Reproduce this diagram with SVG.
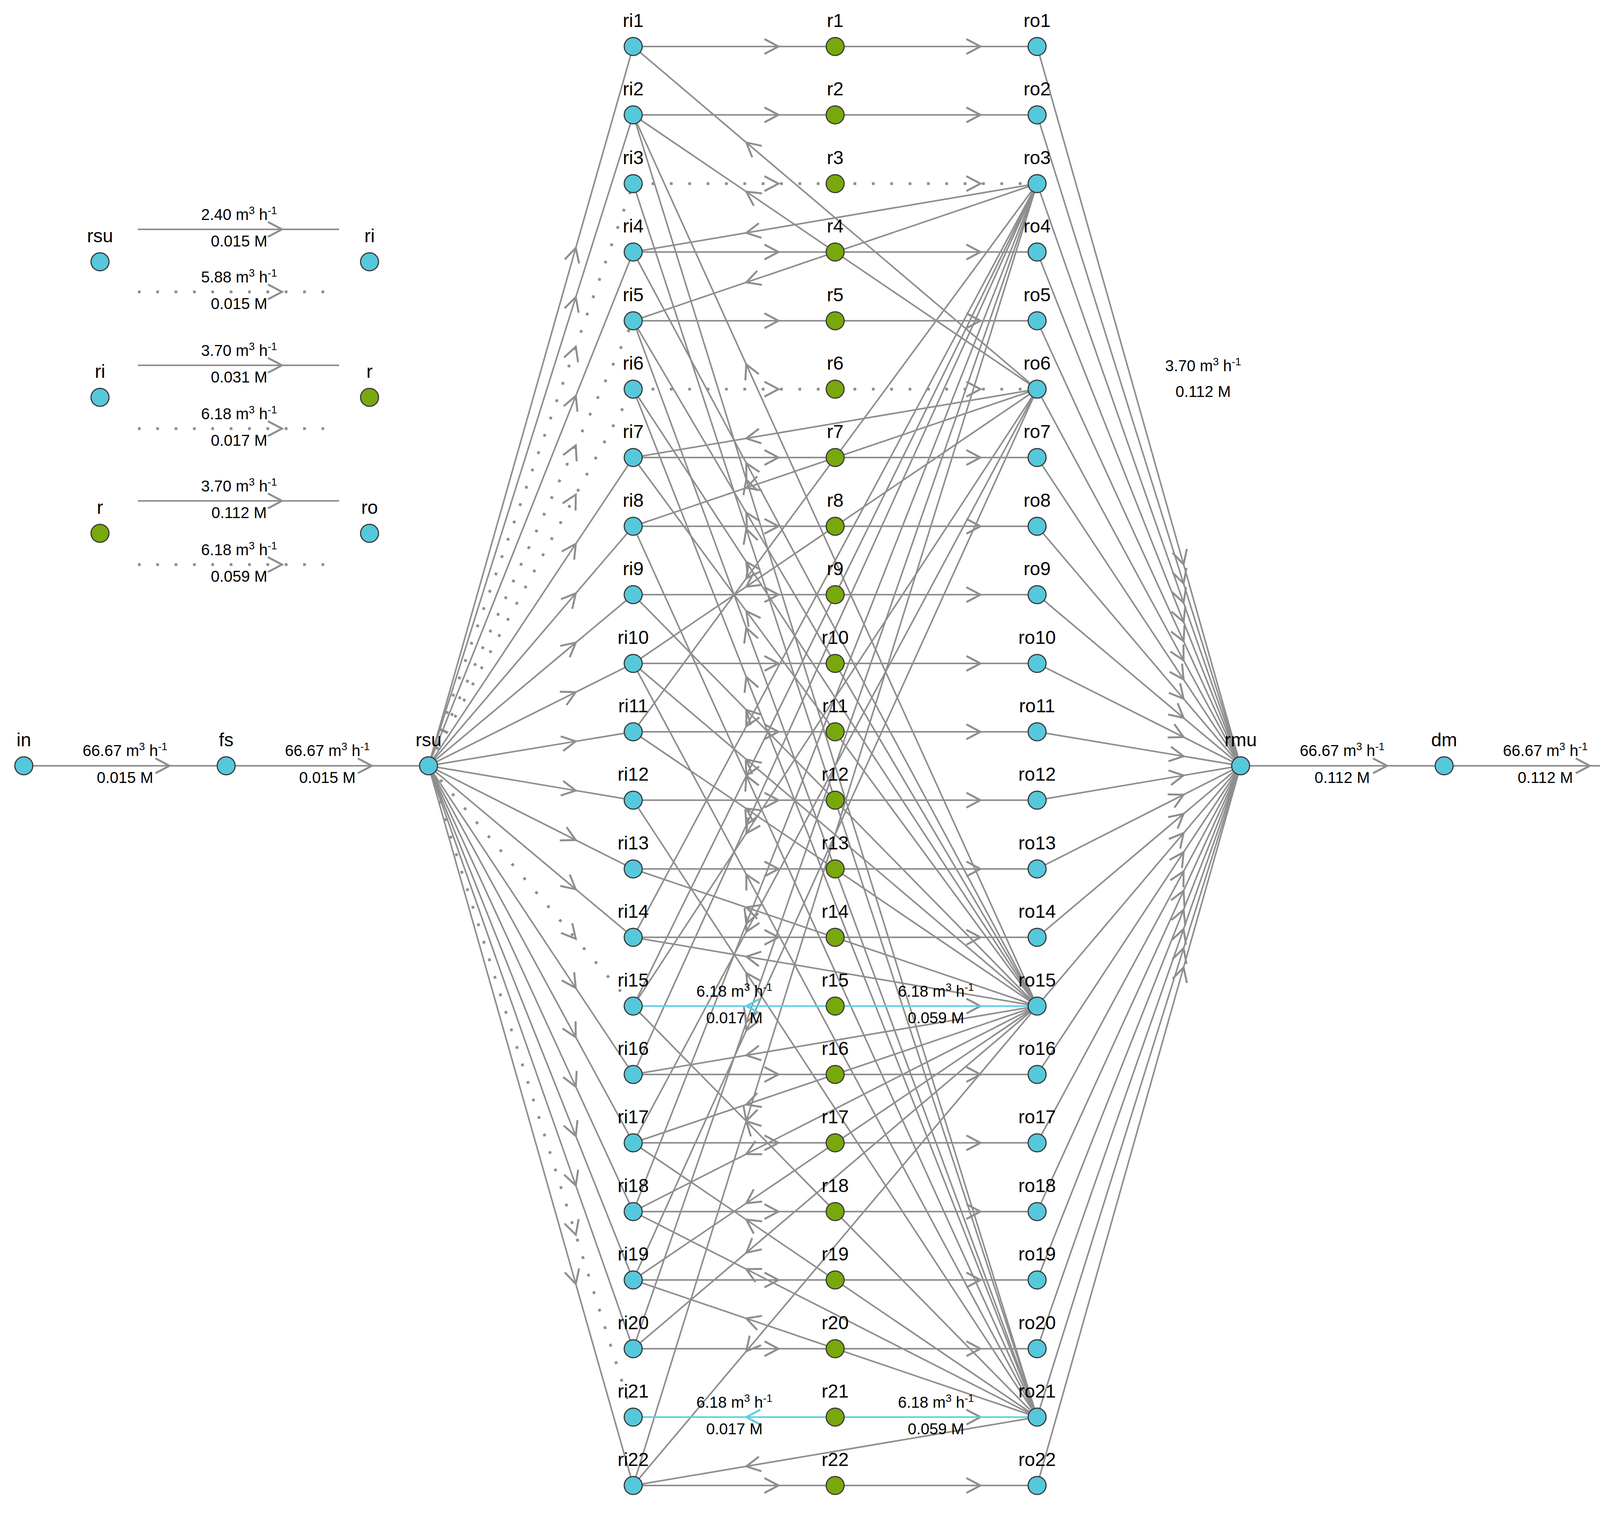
<svg xmlns="http://www.w3.org/2000/svg" width="4329" height="3875" viewBox="0 0 4329 3875">
<style>
text{font-family:"Liberation Sans",Arial,sans-serif;text-anchor:middle;fill:#000}
.n{font-size:48px}
.l{font-size:40px}
.l tspan[font-size]{font-size:27px}
.e{stroke:#8e8e8e;stroke-width:4;fill:none;marker-mid:url(#a)}
.d{stroke:#8e8e8e;stroke-width:7;stroke-dasharray:7 40;fill:none;marker-mid:url(#a)}
.c{stroke:#5ccfe0;stroke-width:4;fill:none;marker-mid:url(#ac)}
.b{fill:#56c8dc;stroke:#3a3a3a;stroke-width:3}
.g{fill:#79a80c;stroke:#3a3a3a;stroke-width:3}
</style>
<defs>
<marker id="a" markerUnits="userSpaceOnUse" viewBox="-42 -25 46 50" markerWidth="46" markerHeight="50" refX="0" refY="0" orient="auto" overflow="visible"><path d="M-36,-19 L0,0 L-36,19" fill="none" stroke="#8e8e8e" stroke-width="5"/></marker>
<marker id="ac" markerUnits="userSpaceOnUse" viewBox="-42 -25 46 50" markerWidth="46" markerHeight="50" refX="0" refY="0" orient="auto" overflow="visible"><path d="M-36,-19 L0,0 L-36,19" fill="none" stroke="#5ccfe0" stroke-width="5"/></marker>
</defs>
<g id="connectors">
<path class="e" d="M61,1960 L434,1960 L579,1960"/>
<path class="e" d="M579,1960 L952,1960 L1097,1960"/>
<path class="e" d="M3176,1960 L3551,1960 L3697,1960"/>
<path class="e" d="M3697,1960 L4070,1960 L4215,1960"/>
<path class="e" d="M1097,1960 L1474,634.5 L1621,119"/>
<path class="e" d="M1097,1960 L1474,760.5 L1621,294"/>
<path class="e" d="M1097,1960 L1474,1013.2 L1621,645"/>
<path class="e" d="M1097,1960 L1474,1391.9 L1621,1171"/>
<path class="e" d="M1097,1960 L1474,1518.6 L1621,1347"/>
<path class="e" d="M1097,1960 L1474,1644.6 L1621,1522"/>
<path class="e" d="M1097,1960 L1474,1771.4 L1621,1698"/>
<path class="e" d="M1097,1960 L1474,1897.4 L1621,1873"/>
<path class="e" d="M1097,1960 L1474,2023.4 L1621,2048"/>
<path class="e" d="M1097,1960 L1474,2150.1 L1621,2224"/>
<path class="e" d="M1097,1960 L1474,2276.1 L1621,2399"/>
<path class="e" d="M1097,1960 L1474,2528.8 L1621,2750"/>
<path class="e" d="M1097,1960 L1474,2654.8 L1621,2925"/>
<path class="e" d="M1097,1960 L1474,2781.5 L1621,3101"/>
<path class="e" d="M1097,1960 L1474,2907.5 L1621,3276"/>
<path class="e" d="M1097,1960 L1474,3034.2 L1621,3452"/>
<path class="e" d="M1097,1960 L1474,3286.2 L1621,3802"/>
<path class="d" d="M1097,1960 L1474,887.2 L1621,470"/>
<path class="d" d="M1097,1960 L1474,1139.9 L1621,821"/>
<path class="d" d="M1097,1960 L1474,1265.9 L1621,996"/>
<path class="d" d="M1097,1960 L1474,2402.8 L1621,2575"/>
<path class="d" d="M1097,1960 L1474,3160.2 L1621,3627"/>
<path class="e" d="M1621,119 L1993,119 L2138,119"/>
<path class="e" d="M1621,294 L1993,294 L2138,294"/>
<path class="d" d="M1621,470 L1993,470 L2138,470"/>
<path class="e" d="M1621,645 L1993,645 L2138,645"/>
<path class="e" d="M1621,821 L1993,821 L2138,821"/>
<path class="d" d="M1621,996 L1993,996 L2138,996"/>
<path class="e" d="M1621,1171 L1993,1171 L2138,1171"/>
<path class="e" d="M1621,1347 L1993,1347 L2138,1347"/>
<path class="e" d="M1621,1522 L1993,1522 L2138,1522"/>
<path class="e" d="M1621,1698 L1993,1698 L2138,1698"/>
<path class="e" d="M1621,1873 L1993,1873 L2138,1873"/>
<path class="e" d="M1621,2048 L1993,2048 L2138,2048"/>
<path class="e" d="M1621,2224 L1993,2224 L2138,2224"/>
<path class="e" d="M1621,2399 L1993,2399 L2138,2399"/>
<path class="e" d="M1621,2750 L1993,2750 L2138,2750"/>
<path class="e" d="M1621,2925 L1993,2925 L2138,2925"/>
<path class="e" d="M1621,3101 L1993,3101 L2138,3101"/>
<path class="e" d="M1621,3276 L1993,3276 L2138,3276"/>
<path class="e" d="M1621,3452 L1993,3452 L2138,3452"/>
<path class="e" d="M1621,3802 L1993,3802 L2138,3802"/>
<path class="e" d="M2138,119 L2510,119 L2655,119"/>
<path class="e" d="M2138,294 L2510,294 L2655,294"/>
<path class="d" d="M2138,470 L2510,470 L2655,470"/>
<path class="e" d="M2138,645 L2510,645 L2655,645"/>
<path class="e" d="M2138,821 L2510,821 L2655,821"/>
<path class="d" d="M2138,996 L2510,996 L2655,996"/>
<path class="e" d="M2138,1171 L2510,1171 L2655,1171"/>
<path class="e" d="M2138,1347 L2510,1347 L2655,1347"/>
<path class="e" d="M2138,1522 L2510,1522 L2655,1522"/>
<path class="e" d="M2138,1698 L2510,1698 L2655,1698"/>
<path class="e" d="M2138,1873 L2510,1873 L2655,1873"/>
<path class="e" d="M2138,2048 L2510,2048 L2655,2048"/>
<path class="e" d="M2138,2224 L2510,2224 L2655,2224"/>
<path class="e" d="M2138,2399 L2510,2399 L2655,2399"/>
<path class="e" d="M2138,2575 L2510,2575 L2655,2575"/>
<path class="e" d="M2138,2750 L2510,2750 L2655,2750"/>
<path class="e" d="M2138,2925 L2510,2925 L2655,2925"/>
<path class="e" d="M2138,3101 L2510,3101 L2655,3101"/>
<path class="e" d="M2138,3276 L2510,3276 L2655,3276"/>
<path class="e" d="M2138,3452 L2510,3452 L2655,3452"/>
<path class="e" d="M2138,3627 L2510,3627 L2655,3627"/>
<path class="e" d="M2138,3802 L2510,3802 L2655,3802"/>
<path class="e" d="M2655,119 L3030,1444.5 L3176,1960"/>
<path class="e" d="M2655,294 L3030,1493.5 L3176,1960"/>
<path class="e" d="M2655,470 L3030,1542.8 L3176,1960"/>
<path class="e" d="M2655,645 L3030,1591.8 L3176,1960"/>
<path class="e" d="M2655,821 L3030,1641.1 L3176,1960"/>
<path class="e" d="M2655,996 L3030,1690.1 L3176,1960"/>
<path class="e" d="M2655,1171 L3030,1739.1 L3176,1960"/>
<path class="e" d="M2655,1347 L3030,1788.4 L3176,1960"/>
<path class="e" d="M2655,1522 L3030,1837.4 L3176,1960"/>
<path class="e" d="M2655,1698 L3030,1886.6 L3176,1960"/>
<path class="e" d="M2655,1873 L3030,1935.6 L3176,1960"/>
<path class="e" d="M2655,2048 L3030,1984.6 L3176,1960"/>
<path class="e" d="M2655,2224 L3030,2033.9 L3176,1960"/>
<path class="e" d="M2655,2399 L3030,2082.9 L3176,1960"/>
<path class="e" d="M2655,2575 L3030,2132.2 L3176,1960"/>
<path class="e" d="M2655,2750 L3030,2181.2 L3176,1960"/>
<path class="e" d="M2655,2925 L3030,2230.2 L3176,1960"/>
<path class="e" d="M2655,3101 L3030,2279.5 L3176,1960"/>
<path class="e" d="M2655,3276 L3030,2328.5 L3176,1960"/>
<path class="e" d="M2655,3452 L3030,2377.8 L3176,1960"/>
<path class="e" d="M2655,3627 L3030,2426.8 L3176,1960"/>
<path class="e" d="M2655,3802 L3030,2475.8 L3176,1960"/>
<path class="e" d="M2655,470 L1910.5,596 L1621,645"/>
<path class="e" d="M2655,470 L1910.5,722.7 L1621,821"/>
<path class="e" d="M2655,470 L1910.5,1480.2 L1621,1873"/>
<path class="e" d="M2655,470 L1910.5,1858.9 L1621,2399"/>
<path class="e" d="M2655,470 L1910.5,1985.6 L1621,2575"/>
<path class="e" d="M2655,470 L1910.5,2111.6 L1621,2750"/>
<path class="e" d="M2655,470 L1910.5,2364.3 L1621,3101"/>
<path class="e" d="M2655,470 L1910.5,2617 L1621,3452"/>
<path class="e" d="M2655,470 L1910.5,2869 L1621,3802"/>
<path class="e" d="M2655,996 L1910.5,364.6 L1621,119"/>
<path class="e" d="M2655,996 L1910.5,490.6 L1621,294"/>
<path class="e" d="M2655,996 L1910.5,1122 L1621,1171"/>
<path class="e" d="M2655,996 L1910.5,1248.7 L1621,1347"/>
<path class="e" d="M2655,996 L1910.5,1501.5 L1621,1698"/>
<path class="e" d="M2655,996 L1910.5,2132.9 L1621,2575"/>
<path class="e" d="M2655,996 L1910.5,2384.9 L1621,2925"/>
<path class="e" d="M2655,996 L1910.5,2637.6 L1621,3276"/>
<path class="e" d="M2655,2575 L1910.5,932.7 L1621,294"/>
<path class="e" d="M2655,2575 L1910.5,1185.4 L1621,645"/>
<path class="e" d="M2655,2575 L1910.5,1312.1 L1621,821"/>
<path class="e" d="M2655,2575 L1910.5,1438.1 L1621,996"/>
<path class="e" d="M2655,2575 L1910.5,1564.1 L1621,1171"/>
<path class="e" d="M2655,2575 L1910.5,1816.8 L1621,1522"/>
<path class="e" d="M2655,2575 L1910.5,1943.6 L1621,1698"/>
<path class="e" d="M2655,2575 L1910.5,2069.6 L1621,1873"/>
<path class="e" d="M2655,2575 L1910.5,2322.3 L1621,2224"/>
<path class="e" d="M2655,2575 L1910.5,2448.3 L1621,2399"/>
<path class="e" d="M2655,2575 L1910.5,2701 L1621,2750"/>
<path class="e" d="M2655,2575 L1910.5,2827 L1621,2925"/>
<path class="e" d="M2655,2575 L1910.5,2953.7 L1621,3101"/>
<path class="e" d="M2655,2575 L1910.5,3079.7 L1621,3276"/>
<path class="e" d="M2655,2575 L1910.5,3206.4 L1621,3452"/>
<path class="e" d="M2655,2575 L1910.5,3458.4 L1621,3802"/>
<path class="e" d="M2655,3627 L1910.5,1227.3 L1621,294"/>
<path class="e" d="M2655,3627 L1910.5,1354 L1621,470"/>
<path class="e" d="M2655,3627 L1910.5,1606.7 L1621,821"/>
<path class="e" d="M2655,3627 L1910.5,1732.7 L1621,996"/>
<path class="e" d="M2655,3627 L1910.5,1985.4 L1621,1347"/>
<path class="e" d="M2655,3627 L1910.5,2238.2 L1621,1698"/>
<path class="e" d="M2655,3627 L1910.5,2490.2 L1621,2048"/>
<path class="e" d="M2655,3627 L1910.5,2869.6 L1621,2575"/>
<path class="e" d="M2655,3627 L1910.5,3121.6 L1621,2925"/>
<path class="e" d="M2655,3627 L1910.5,3248.3 L1621,3101"/>
<path class="e" d="M2655,3627 L1910.5,3374.3 L1621,3276"/>
<path class="e" d="M2655,3627 L1910.5,3753 L1621,3802"/>
<path class="c" d="M2655,2575 L1910.5,2575 L1621,2575"/>
<path class="c" d="M2655,3627 L1910.5,3627 L1621,3627"/>
<path class="e" d="M353,587 L722,587 L868,587"/>
<path class="d" d="M353,747 L722,747 L868,747"/>
<path class="e" d="M353,935 L722,935 L868,935"/>
<path class="d" d="M353,1097 L722,1097 L868,1097"/>
<path class="e" d="M353,1282 L722,1282 L868,1282"/>
<path class="d" d="M353,1445 L722,1445 L868,1445"/>
</g>
<g id="edge-labels">
<text class="l" x="320" y="1935">66.67 m<tspan dy="-15" font-size="27">3</tspan><tspan dy="15"> h</tspan><tspan dy="-15" font-size="27">-1</tspan></text>
<text class="l" x="320" y="2004">0.015 M</text>
<text class="l" x="838" y="1935">66.67 m<tspan dy="-15" font-size="27">3</tspan><tspan dy="15"> h</tspan><tspan dy="-15" font-size="27">-1</tspan></text>
<text class="l" x="838" y="2004">0.015 M</text>
<text class="l" x="3436" y="1935">66.67 m<tspan dy="-15" font-size="27">3</tspan><tspan dy="15"> h</tspan><tspan dy="-15" font-size="27">-1</tspan></text>
<text class="l" x="3436" y="2004">0.112 M</text>
<text class="l" x="3956" y="1935">66.67 m<tspan dy="-15" font-size="27">3</tspan><tspan dy="15"> h</tspan><tspan dy="-15" font-size="27">-1</tspan></text>
<text class="l" x="3956" y="2004">0.112 M</text>
<text class="l" x="3080" y="950">3.70 m<tspan dy="-15" font-size="27">3</tspan><tspan dy="15"> h</tspan><tspan dy="-15" font-size="27">-1</tspan></text>
<text class="l" x="3080" y="1016">0.112 M</text>
<text class="l" x="1880" y="2551">6.18 m<tspan dy="-15" font-size="27">3</tspan><tspan dy="15"> h</tspan><tspan dy="-15" font-size="27">-1</tspan></text>
<text class="l" x="1880" y="2619">0.017 M</text>
<text class="l" x="2396" y="2551">6.18 m<tspan dy="-15" font-size="27">3</tspan><tspan dy="15"> h</tspan><tspan dy="-15" font-size="27">-1</tspan></text>
<text class="l" x="2396" y="2619">0.059 M</text>
<text class="l" x="1880" y="3603">6.18 m<tspan dy="-15" font-size="27">3</tspan><tspan dy="15"> h</tspan><tspan dy="-15" font-size="27">-1</tspan></text>
<text class="l" x="1880" y="3671">0.017 M</text>
<text class="l" x="2396" y="3603">6.18 m<tspan dy="-15" font-size="27">3</tspan><tspan dy="15"> h</tspan><tspan dy="-15" font-size="27">-1</tspan></text>
<text class="l" x="2396" y="3671">0.059 M</text>
<text class="l" x="612" y="563">2.40 m<tspan dy="-15" font-size="27">3</tspan><tspan dy="15"> h</tspan><tspan dy="-15" font-size="27">-1</tspan></text>
<text class="l" x="612" y="631">0.015 M</text>
<text class="l" x="612" y="723">5.88 m<tspan dy="-15" font-size="27">3</tspan><tspan dy="15"> h</tspan><tspan dy="-15" font-size="27">-1</tspan></text>
<text class="l" x="612" y="791">0.015 M</text>
<text class="l" x="612" y="911">3.70 m<tspan dy="-15" font-size="27">3</tspan><tspan dy="15"> h</tspan><tspan dy="-15" font-size="27">-1</tspan></text>
<text class="l" x="612" y="979">0.031 M</text>
<text class="l" x="612" y="1073">6.18 m<tspan dy="-15" font-size="27">3</tspan><tspan dy="15"> h</tspan><tspan dy="-15" font-size="27">-1</tspan></text>
<text class="l" x="612" y="1141">0.017 M</text>
<text class="l" x="612" y="1258">3.70 m<tspan dy="-15" font-size="27">3</tspan><tspan dy="15"> h</tspan><tspan dy="-15" font-size="27">-1</tspan></text>
<text class="l" x="612" y="1326">0.112 M</text>
<text class="l" x="612" y="1421">6.18 m<tspan dy="-15" font-size="27">3</tspan><tspan dy="15"> h</tspan><tspan dy="-15" font-size="27">-1</tspan></text>
<text class="l" x="612" y="1489">0.059 M</text>
</g>
<g id="legend-nodes">
<g id="leg-rsu"><circle class="b" cx="256" cy="670" r="23"/><text class="n" x="256" y="620">rsu</text></g>
<g id="leg-ri-a"><circle class="b" cx="946" cy="670" r="23"/><text class="n" x="946" y="620">ri</text></g>
<g id="leg-ri-b"><circle class="b" cx="256" cy="1017" r="23"/><text class="n" x="256" y="967">ri</text></g>
<g id="leg-r-a"><circle class="g" cx="946" cy="1017" r="23"/><text class="n" x="946" y="967">r</text></g>
<g id="leg-r-b"><circle class="g" cx="256" cy="1365" r="23"/><text class="n" x="256" y="1315">r</text></g>
<g id="leg-ro"><circle class="b" cx="946" cy="1365" r="23"/><text class="n" x="946" y="1315">ro</text></g>
</g>
<g id="main-nodes">
<g id="in"><circle class="b" cx="61" cy="1960" r="23"/><text class="n" x="61" y="1910">in</text></g>
<g id="fs"><circle class="b" cx="579" cy="1960" r="23"/><text class="n" x="579" y="1910">fs</text></g>
<g id="rsu"><circle class="b" cx="1097" cy="1960" r="23"/><text class="n" x="1097" y="1910">rsu</text></g>
<g id="rmu"><circle class="b" cx="3176" cy="1960" r="23"/><text class="n" x="3176" y="1910">rmu</text></g>
<g id="dm"><circle class="b" cx="3697" cy="1960" r="23"/><text class="n" x="3697" y="1910">dm</text></g>
<g id="disch"><circle class="b" cx="4215" cy="1960" r="23"/><text class="n" x="4215" y="1910">disch</text></g>
</g>
<g id="ri-nodes">
<g id="ri1"><circle class="b" cx="1621" cy="119" r="23"/><text class="n" x="1621" y="69">ri1</text></g>
<g id="ri2"><circle class="b" cx="1621" cy="294" r="23"/><text class="n" x="1621" y="244">ri2</text></g>
<g id="ri3"><circle class="b" cx="1621" cy="470" r="23"/><text class="n" x="1621" y="420">ri3</text></g>
<g id="ri4"><circle class="b" cx="1621" cy="645" r="23"/><text class="n" x="1621" y="595">ri4</text></g>
<g id="ri5"><circle class="b" cx="1621" cy="821" r="23"/><text class="n" x="1621" y="771">ri5</text></g>
<g id="ri6"><circle class="b" cx="1621" cy="996" r="23"/><text class="n" x="1621" y="946">ri6</text></g>
<g id="ri7"><circle class="b" cx="1621" cy="1171" r="23"/><text class="n" x="1621" y="1121">ri7</text></g>
<g id="ri8"><circle class="b" cx="1621" cy="1347" r="23"/><text class="n" x="1621" y="1297">ri8</text></g>
<g id="ri9"><circle class="b" cx="1621" cy="1522" r="23"/><text class="n" x="1621" y="1472">ri9</text></g>
<g id="ri10"><circle class="b" cx="1621" cy="1698" r="23"/><text class="n" x="1621" y="1648">ri10</text></g>
<g id="ri11"><circle class="b" cx="1621" cy="1873" r="23"/><text class="n" x="1621" y="1823">ri11</text></g>
<g id="ri12"><circle class="b" cx="1621" cy="2048" r="23"/><text class="n" x="1621" y="1998">ri12</text></g>
<g id="ri13"><circle class="b" cx="1621" cy="2224" r="23"/><text class="n" x="1621" y="2174">ri13</text></g>
<g id="ri14"><circle class="b" cx="1621" cy="2399" r="23"/><text class="n" x="1621" y="2349">ri14</text></g>
<g id="ri15"><circle class="b" cx="1621" cy="2575" r="23"/><text class="n" x="1621" y="2525">ri15</text></g>
<g id="ri16"><circle class="b" cx="1621" cy="2750" r="23"/><text class="n" x="1621" y="2700">ri16</text></g>
<g id="ri17"><circle class="b" cx="1621" cy="2925" r="23"/><text class="n" x="1621" y="2875">ri17</text></g>
<g id="ri18"><circle class="b" cx="1621" cy="3101" r="23"/><text class="n" x="1621" y="3051">ri18</text></g>
<g id="ri19"><circle class="b" cx="1621" cy="3276" r="23"/><text class="n" x="1621" y="3226">ri19</text></g>
<g id="ri20"><circle class="b" cx="1621" cy="3452" r="23"/><text class="n" x="1621" y="3402">ri20</text></g>
<g id="ri21"><circle class="b" cx="1621" cy="3627" r="23"/><text class="n" x="1621" y="3577">ri21</text></g>
<g id="ri22"><circle class="b" cx="1621" cy="3802" r="23"/><text class="n" x="1621" y="3752">ri22</text></g>
</g>
<g id="r-nodes">
<g id="r1"><circle class="g" cx="2138" cy="119" r="23"/><text class="n" x="2138" y="69">r1</text></g>
<g id="r2"><circle class="g" cx="2138" cy="294" r="23"/><text class="n" x="2138" y="244">r2</text></g>
<g id="r3"><circle class="g" cx="2138" cy="470" r="23"/><text class="n" x="2138" y="420">r3</text></g>
<g id="r4"><circle class="g" cx="2138" cy="645" r="23"/><text class="n" x="2138" y="595">r4</text></g>
<g id="r5"><circle class="g" cx="2138" cy="821" r="23"/><text class="n" x="2138" y="771">r5</text></g>
<g id="r6"><circle class="g" cx="2138" cy="996" r="23"/><text class="n" x="2138" y="946">r6</text></g>
<g id="r7"><circle class="g" cx="2138" cy="1171" r="23"/><text class="n" x="2138" y="1121">r7</text></g>
<g id="r8"><circle class="g" cx="2138" cy="1347" r="23"/><text class="n" x="2138" y="1297">r8</text></g>
<g id="r9"><circle class="g" cx="2138" cy="1522" r="23"/><text class="n" x="2138" y="1472">r9</text></g>
<g id="r10"><circle class="g" cx="2138" cy="1698" r="23"/><text class="n" x="2138" y="1648">r10</text></g>
<g id="r11"><circle class="g" cx="2138" cy="1873" r="23"/><text class="n" x="2138" y="1823">r11</text></g>
<g id="r12"><circle class="g" cx="2138" cy="2048" r="23"/><text class="n" x="2138" y="1998">r12</text></g>
<g id="r13"><circle class="g" cx="2138" cy="2224" r="23"/><text class="n" x="2138" y="2174">r13</text></g>
<g id="r14"><circle class="g" cx="2138" cy="2399" r="23"/><text class="n" x="2138" y="2349">r14</text></g>
<g id="r15"><circle class="g" cx="2138" cy="2575" r="23"/><text class="n" x="2138" y="2525">r15</text></g>
<g id="r16"><circle class="g" cx="2138" cy="2750" r="23"/><text class="n" x="2138" y="2700">r16</text></g>
<g id="r17"><circle class="g" cx="2138" cy="2925" r="23"/><text class="n" x="2138" y="2875">r17</text></g>
<g id="r18"><circle class="g" cx="2138" cy="3101" r="23"/><text class="n" x="2138" y="3051">r18</text></g>
<g id="r19"><circle class="g" cx="2138" cy="3276" r="23"/><text class="n" x="2138" y="3226">r19</text></g>
<g id="r20"><circle class="g" cx="2138" cy="3452" r="23"/><text class="n" x="2138" y="3402">r20</text></g>
<g id="r21"><circle class="g" cx="2138" cy="3627" r="23"/><text class="n" x="2138" y="3577">r21</text></g>
<g id="r22"><circle class="g" cx="2138" cy="3802" r="23"/><text class="n" x="2138" y="3752">r22</text></g>
</g>
<g id="ro-nodes">
<g id="ro1"><circle class="b" cx="2655" cy="119" r="23"/><text class="n" x="2655" y="69">ro1</text></g>
<g id="ro2"><circle class="b" cx="2655" cy="294" r="23"/><text class="n" x="2655" y="244">ro2</text></g>
<g id="ro3"><circle class="b" cx="2655" cy="470" r="23"/><text class="n" x="2655" y="420">ro3</text></g>
<g id="ro4"><circle class="b" cx="2655" cy="645" r="23"/><text class="n" x="2655" y="595">ro4</text></g>
<g id="ro5"><circle class="b" cx="2655" cy="821" r="23"/><text class="n" x="2655" y="771">ro5</text></g>
<g id="ro6"><circle class="b" cx="2655" cy="996" r="23"/><text class="n" x="2655" y="946">ro6</text></g>
<g id="ro7"><circle class="b" cx="2655" cy="1171" r="23"/><text class="n" x="2655" y="1121">ro7</text></g>
<g id="ro8"><circle class="b" cx="2655" cy="1347" r="23"/><text class="n" x="2655" y="1297">ro8</text></g>
<g id="ro9"><circle class="b" cx="2655" cy="1522" r="23"/><text class="n" x="2655" y="1472">ro9</text></g>
<g id="ro10"><circle class="b" cx="2655" cy="1698" r="23"/><text class="n" x="2655" y="1648">ro10</text></g>
<g id="ro11"><circle class="b" cx="2655" cy="1873" r="23"/><text class="n" x="2655" y="1823">ro11</text></g>
<g id="ro12"><circle class="b" cx="2655" cy="2048" r="23"/><text class="n" x="2655" y="1998">ro12</text></g>
<g id="ro13"><circle class="b" cx="2655" cy="2224" r="23"/><text class="n" x="2655" y="2174">ro13</text></g>
<g id="ro14"><circle class="b" cx="2655" cy="2399" r="23"/><text class="n" x="2655" y="2349">ro14</text></g>
<g id="ro15"><circle class="b" cx="2655" cy="2575" r="23"/><text class="n" x="2655" y="2525">ro15</text></g>
<g id="ro16"><circle class="b" cx="2655" cy="2750" r="23"/><text class="n" x="2655" y="2700">ro16</text></g>
<g id="ro17"><circle class="b" cx="2655" cy="2925" r="23"/><text class="n" x="2655" y="2875">ro17</text></g>
<g id="ro18"><circle class="b" cx="2655" cy="3101" r="23"/><text class="n" x="2655" y="3051">ro18</text></g>
<g id="ro19"><circle class="b" cx="2655" cy="3276" r="23"/><text class="n" x="2655" y="3226">ro19</text></g>
<g id="ro20"><circle class="b" cx="2655" cy="3452" r="23"/><text class="n" x="2655" y="3402">ro20</text></g>
<g id="ro21"><circle class="b" cx="2655" cy="3627" r="23"/><text class="n" x="2655" y="3577">ro21</text></g>
<g id="ro22"><circle class="b" cx="2655" cy="3802" r="23"/><text class="n" x="2655" y="3752">ro22</text></g>
</g>
</svg>
